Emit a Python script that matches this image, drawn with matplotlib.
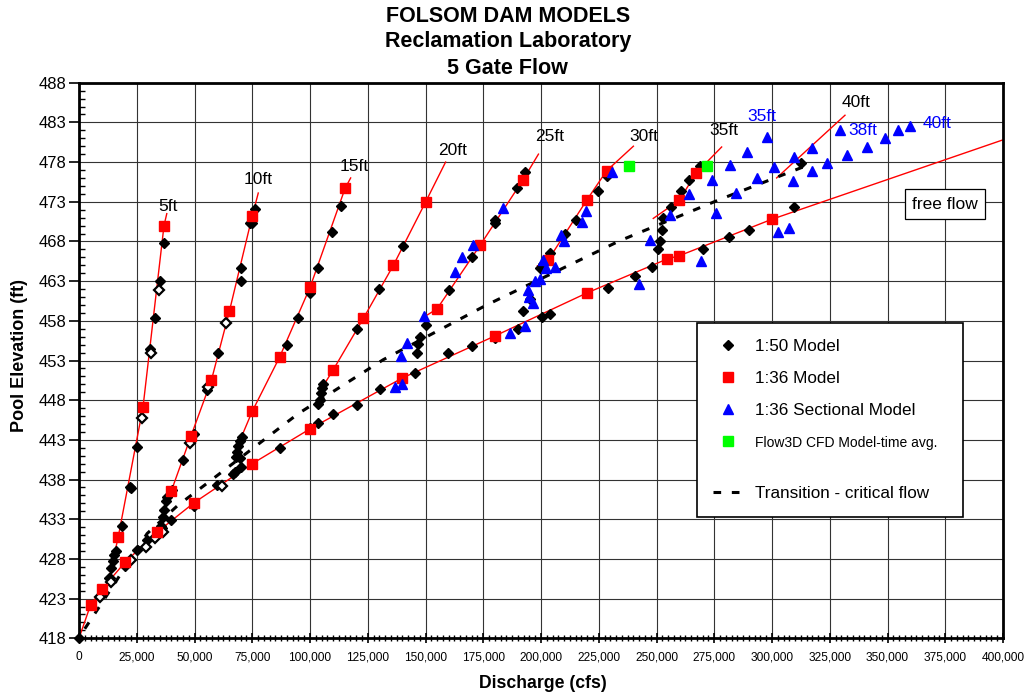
import numpy as np
import matplotlib.pyplot as plt
from matplotlib.lines import Line2D
from matplotlib.ticker import MultipleLocator, FixedLocator, FuncFormatter

plt.rcParams['font.family'] = ['Liberation Sans', 'DejaVu Sans']

# ---------------- data (discharge in cfs, pool elevation in ft) ----------------
# 1:36 model, red squares
m36_q = [5000, 10100, 20000, 33900, 49900, 75000, 100100, 140000, 180100, 219800, 254700, 259900, 300000,
         17000, 27700, 36800,
         39900, 48500, 57300, 65100, 75000,
         75000, 86800, 100000, 115200,
         110000, 123100, 136100, 150100,
         155000, 173600, 192300,
         203200, 219800, 228400,
         259900, 267100]
m36_h = [422.2, 424.25, 427.6, 431.4, 435.1, 440.0, 444.4, 450.8, 456.1, 461.5, 465.8, 466.2, 470.8,
         430.8, 447.1, 470.0,
         436.5, 443.5, 450.5, 459.2, 471.2,
         446.6, 453.4, 462.2, 474.7,
         451.8, 458.3, 465.0, 473.0,
         459.5, 467.5, 475.8,
         465.7, 473.2, 476.9,
         473.2, 476.6]

# red rating curves for each gate opening
free_q = [0, 5000, 10100, 20000, 33900, 49900, 75000, 100100, 140000, 180100, 219800, 254700, 259900, 300000, 400000]
free_h = [418, 422.2, 424.25, 427.6, 431.4, 435.1, 440.0, 444.4, 450.8, 456.1, 461.5, 465.8, 466.2, 470.8, 480.8]
g5_q = [13000, 17000, 27700, 36800, 38000]
g5_h = [425.5, 430.8, 447.1, 470.0, 471.5]
g10_q = [35500, 39900, 48500, 57300, 65100, 75000, 77600]
g10_h = [433.0, 436.5, 443.5, 450.5, 459.2, 471.2, 474.1]
g15_q = [69500, 75000, 86800, 100000, 115200, 117600]
g15_h = [442.8, 446.6, 453.4, 462.2, 474.7, 476.0]
g20_q = [105500, 110000, 123100, 136100, 150100, 158700]
g20_h = [449.7, 451.8, 458.3, 465.0, 473.0, 478.0]
g25_q = [150000, 155000, 173600, 192300, 198900]
g25_h = [458.6, 459.5, 467.5, 475.8, 479.0]
g30_q = [198400, 203200, 219800, 228400, 240000]
g30_h = [464.9, 465.7, 473.2, 476.9, 480.0]
g35_q = [248600, 259900, 267100, 278200]
g35_h = [470.9, 473.2, 476.6, 479.9]
g40_q = [302000, 331600]
g40_h = [476.0, 483.9]

# 1:50 model, filled diamonds
m50_q = [0, 13100, 20000, 25000, 29600, 35800, 39800, 49900, 59900, 66800, 67500, 70100, 87000, 100000,
         103600, 110100, 120200, 130300, 145500, 159900, 170000, 180100, 190200, 200300, 203900, 228900,
         240700, 247900, 270300, 281400, 290200, 309500,
         13400, 13900, 14800, 15300, 16000, 18500, 22100, 22300, 25000, 30700, 32900, 35200, 36930,
         35500, 36200, 36900, 37700, 38200, 40100, 44900, 49800, 55300, 60000, 70100, 70100, 74100, 75000, 76200,
         68000, 68300, 69000, 69700, 70400, 69700,
         89900, 94900, 100000, 103600, 109400, 113300,
         103600, 104300, 104600, 105100, 105800, 120200, 130000, 140100,
         146200, 146900, 147600, 150100, 160000, 170000, 180100, 180100, 189500, 193100,
         192400, 195200, 199600, 200300, 201000, 203900, 210400, 215200, 224800, 228400,
         250800, 251500, 252200, 252900, 256100, 260500, 264200, 268800, 312500]
m50_h = [418.0, 425.6, 427.1, 429.1, 430.4, 431.9, 432.9, 434.7, 437.3, 438.7, 438.9, 439.6, 442.0, 444.5,
         445.1, 446.3, 447.4, 449.4, 451.4, 453.9, 454.8, 455.8, 457.0, 458.5, 458.9, 462.1,
         463.7, 464.8, 467.1, 468.5, 469.4, 472.4,
         425.6, 426.8, 427.7, 428.5, 429.0, 432.2, 437.1, 436.9, 442.1, 454.5, 458.4, 463.0, 467.8,
         432.1, 433.3, 434.2, 435.3, 435.8, 436.7, 440.5, 443.7, 449.3, 453.9, 463.0, 464.6, 470.3, 470.3, 472.1,
         440.9, 441.5, 442.2, 440.7, 443.4, 442.8,
         455.0, 458.4, 461.5, 464.7, 469.2, 472.5,
         447.5, 448.0, 448.9, 449.5, 450.1, 457.0, 462.0, 467.4,
         453.9, 455.1, 456.0, 457.5, 461.9, 466.0, 470.7, 470.3, 474.7, 476.8,
         459.2, 460.8, 464.7, 464.6, 465.2, 466.6, 468.9, 470.7, 474.4, 476.2,
         467.0, 468.0, 469.5, 470.9, 472.4, 474.3, 475.8, 477.5, 477.9]

# 1:50 model, open diamonds
m50o_q = [9100, 13900, 22500, 29000, 32900, 36500, 27100, 31000, 34500, 48100, 56000, 63500, 62000]
m50o_h = [423.2, 425.1, 427.9, 429.5, 430.6, 431.4, 445.8, 453.9, 461.9, 442.6, 449.7, 457.7, 437.2]

# 1:36 sectional model, blue triangles
sec_q = [136800, 140000, 139300, 142000, 149400, 162800, 165700, 170700, 183400, 186600, 193100, 194500,
         194800, 196400, 197400, 199600, 201000, 202200, 206100, 208700, 210000, 217900, 219400, 230600,
         242400, 247200, 255900, 264100, 269100, 274000, 275900, 282000, 284300, 289000, 293500, 297700,
         300900, 302700, 307500, 309300, 309500, 317200, 317200, 323700, 329400, 332600, 341300, 348900,
         354700, 359700]
sec_h = [449.7, 450.0, 453.6, 455.2, 458.6, 464.2, 466.0, 467.5, 472.2, 456.5, 457.3, 461.9,
         461.0, 460.2, 463.0, 463.3, 465.6, 464.6, 464.8, 468.8, 468.0, 470.5, 471.8, 476.8,
         462.6, 468.2, 471.3, 474.0, 465.5, 475.8, 471.6, 477.6, 474.1, 479.3, 476.0, 481.2,
         477.4, 469.2, 469.7, 475.6, 478.6, 479.8, 476.9, 477.9, 482.0, 478.9, 479.9, 481.0,
         482.0, 482.6]

# Flow3D CFD, green squares
cfd_q = [238100, 272000]
cfd_h = [477.5, 477.5]

# transition - critical flow
trans_q = [2500, 10000, 29500, 42600, 55300, 94900, 131700, 176500, 234200, 277500, 313600]
trans_h = [419.2, 422.5, 431.2, 434.7, 437.5, 446.3, 453.1, 460.0, 468.1, 473.3, 477.4]

# gate opening labels
lab_text = ['5ft', '10ft', '15ft', '20ft', '25ft', '30ft', '35ft', '40ft']
lab_q = [38400, 77600, 119000, 161800, 203900, 244600, 279200, 336400]
lab_h = [472.4, 475.8, 477.5, 479.4, 481.2, 481.2, 482.0, 485.5]
blue_text = ['35ft', '38ft', '40ft']
blue_q = [295500, 339500, 371600]
blue_h = [483.7, 482.0, 482.9]

# ---------------- figure ----------------
fig = plt.figure(figsize=(10.26, 6.94), dpi=100)
ax = fig.add_axes([79/1026, 1-638.3/694, 924/1026, 555.6/694])

red_lines = [(free_q, free_h), (g5_q, g5_h), (g10_q, g10_h), (g15_q, g15_h), (g20_q, g20_h),
             (g25_q, g25_h), (g30_q, g30_h), (g35_q, g35_h), (g40_q, g40_h)]
for q, h in red_lines:
    ax.plot(q, h, color='red', lw=1.0, zorder=2)

ax.plot(trans_q, trans_h, color='black', lw=2.2, ls=(0, (2.5, 3.5)), zorder=2)

ax.plot(m50_q, m50_h, ls='none', marker='D', ms=5.6, color='black', zorder=3, clip_on=False)
ax.plot(m50o_q, m50o_h, ls='none', marker='D', ms=4.6, mfc='white', mec='black', mew=1.6, zorder=3)
ax.plot(m36_q, m36_h, ls='none', marker='s', ms=7.4, color='red', zorder=4)
ax.plot(sec_q, sec_h, ls='none', marker='^', ms=7.4, color='blue', zorder=5)
ax.plot(cfd_q, cfd_h, ls='none', marker='s', ms=6.5, color='#00ff00', zorder=6)

for t, q, h in zip(lab_text, lab_q, lab_h):
    ax.text(q, h, t, ha='center', va='center', fontsize=12.5, color='black', zorder=7)
for t, q, h in zip(blue_text, blue_q, blue_h):
    ax.text(q, h, t, ha='center', va='center', fontsize=12.5, color='blue', zorder=7)

ax.text(374900, 472.7, 'free flow', ha='center', va='center', fontsize=12.5, zorder=7,
        bbox=dict(boxstyle='square,pad=0.42', fc='white', ec='black', lw=0.9))

ax.set_xlim(0, 400000)
ax.set_ylim(418, 488)
ax.xaxis.set_major_locator(MultipleLocator(25000))
ax.xaxis.set_minor_locator(MultipleLocator(2500))
ax.yaxis.set_major_locator(FixedLocator(np.arange(418, 489, 5)))
ax.yaxis.set_minor_locator(MultipleLocator(1))
ax.xaxis.set_major_formatter(FuncFormatter(lambda v, p: f'{v:,.0f}'))
ax.grid(which='major', color='#333333', lw=0.8, zorder=0)
ax.set_axisbelow(True)

ax.tick_params(axis='y', which='major', direction='out', length=7, width=1.2, labelsize=12, pad=2)
ax.tick_params(axis='y', which='minor', direction='in', length=4, width=1)
ax.tick_params(axis='x', which='major', direction='inout', length=7, width=1.2, pad=6, labelsize=8.6)
ax.tick_params(axis='x', which='minor', direction='inout', length=5, width=1)
for s in ax.spines.values():
    s.set_linewidth(2)

fig.text(0.495, 1-17/694, 'FOLSOM DAM MODELS', ha='center', va='center', fontsize=15.5, weight='bold')
fig.text(0.495, 1-42/694, 'Reclamation Laboratory', ha='center', va='center', fontsize=15.5, weight='bold')
fig.text(0.495, 1-69/694, '5 Gate Flow', ha='center', va='center', fontsize=15.5, weight='bold')
fig.text(20/1026, 1-355/694, 'Pool Elevation (ft)', rotation=90, ha='center', va='center',
         fontsize=13, weight='bold')
fig.text(543/1026, 1-684/694, 'Discharge (cfs)', ha='center', va='center', fontsize=12.7, weight='bold')

handles = [
    Line2D([], [], ls='none', marker='D', ms=5.6, color='black'),
    Line2D([], [], ls='none', marker='s', ms=7.4, color='red'),
    Line2D([], [], ls='none', marker='^', ms=7.4, color='blue'),
    Line2D([], [], ls='none', marker='s', ms=6.5, color='#00ff00'),
    Line2D([], [], ls='none'),
    Line2D([], [], color='black', lw=2.2, ls=(0, (2.5, 3.5))),
]
labels = ['1:50 Model', '1:36 Model', '1:36 Sectional Model', 'Flow3D CFD Model-time avg.', ' ',
          'Transition - critical flow']
leg = ax.legend(handles, labels, loc='upper left',
                bbox_to_anchor=(697/1026, 1-515/694, 266/1026, 192/694),
                bbox_transform=fig.transFigure, mode='expand', borderaxespad=0, fontsize=12.3,
                handlelength=1.7, handletextpad=0.76, labelspacing=1.0, borderpad=0.95,
                fancybox=False, framealpha=1, edgecolor='black')
leg.get_frame().set_linewidth(1.2)
leg.get_texts()[3].set_fontsize(10)
leg.get_texts()[4].set_fontsize(1)
# shrink the empty spacer row of the legend
rows = leg._legend_handle_box.get_children()[0].get_children()
rows[4].get_children()[0].height = 0
leg.set_zorder(10)

fig.savefig('out.png', dpi=100)
